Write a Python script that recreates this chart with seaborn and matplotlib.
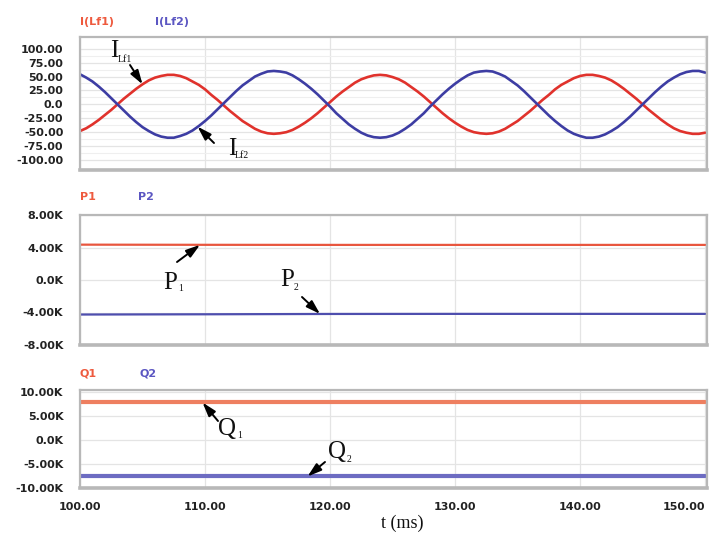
import numpy as np
import pandas as pd
import matplotlib
matplotlib.use("Agg")
import matplotlib.pyplot as plt
import seaborn as sns

# ---------------- data (every 0.5 ms) ----------------
t_ms = [100 + 0.5 * k for k in range(101)]
i_lf1 = [-48, -43, -36, -28, -19, -10, 0, 10, 19, 28, 36, 43, 48, 51, 53, 53, 51, 47, 41, 35,
         27, 17, 8, -2, -12, -21, -30, -37, -44, -49, -52, -53, -52, -50, -46, -40, -33, -25,
         -16, -6, 4, 14, 23, 31, 39, 45, 49, 52, 53, 52, 49, 45, 39, 31, 23, 14, 4, -6, -16,
         -25, -33, -40, -46, -50, -52, -53, -52, -49, -44, -37, -30, -21, -12, -2, 8, 17, 27,
         35, 41, 47, 51, 53, 53, 51, 48, 43, 36, 28, 19, 10, 0, -10, -19, -28, -36, -43, -48,
         -51, -53, -53, -51]
i_lf2 = [54, 48, 41, 32, 22, 11, 0, -11, -22, -32, -41, -48, -54, -58, -60, -60, -57, -53, -47,
         -39, -30, -20, -9, 2, 13, 24, 34, 42, 50, 55, 59, 60, 59, 57, 52, 45, 37, 28, 18, 7,
         -4, -16, -26, -36, -44, -51, -56, -59, -60, -59, -56, -51, -44, -36, -26, -16, -4, 7,
         18, 28, 37, 45, 52, 57, 59, 60, 59, 55, 50, 42, 34, 24, 13, 2, -9, -20, -30, -39, -47,
         -53, -57, -60, -60, -58, -54, -48, -41, -32, -22, -11, 0, 11, 22, 32, 41, 48, 54, 58,
         60, 60, 57]
t_pq = [100, 110, 120, 130, 140, 150]
p1 = [4.35, 4.33, 4.32, 4.32, 4.32, 4.32]      # K
p2 = [-4.25, -4.22, -4.18, -4.17, -4.17, -4.17]
q1 = [7.8, 7.8, 7.8, 7.8, 7.8, 7.8]            # K
q2 = [-7.6, -7.6, -7.6, -7.6, -7.6, -7.6]

i_ticks = [100, 75, 50, 25, 0, -25, -50, -75, -100]
i_labels = ["100.00", "75.00", "50.00", "25.00", "0.0", "-25.00", "-50.00", "-75.00", "-100.00"]
p_ticks = [8, 4, 0, -4, -8]
p_labels = ["8.00K", "4.00K", "0.0K", "-4.00K", "-8.00K"]
q_ticks = [10, 5, 0, -5, -10]
q_labels = ["10.00K", "5.00K", "0.0K", "-5.00K", "-10.00K"]
x_ticks = [100, 110, 120, 130, 140, 150]
x_labels = ["100.00", "110.00", "120.00", "130.00", "140.00", "150.00"]

df_i = pd.DataFrame({"t": t_ms, "I1": i_lf1, "I2": i_lf2})
df_pq = pd.DataFrame({"t": t_pq, "P1": p1, "P2": p2, "Q1": q1, "Q2": q2})

# ---------------- style ----------------
sns.set_style("white")
plt.rcParams["font.family"] = ["DejaVu Sans"]

W, H = 709, 533
fig = plt.figure(figsize=(W / 100, H / 100), dpi=100)


def ax_px(left, top, right, bottom):
    return fig.add_axes([left / W, 1 - bottom / H, (right - left) / W, (bottom - top) / H])


def fp(x, y):
    return (x / W, 1 - y / H)


RED1, BLUE1 = "#e0322c", "#3d3da3"
RED2, BLUE2 = "#e8563e", "#4e4eae"
RED3, BLUE3 = "#ee7f60", "#6d6cc2"
SPINE = "#b8b8b8"
GRID = "#e4e4e4"
TICKC = "#222222"

ax1 = ax_px(80, 37, 707, 170)
ax2 = ax_px(80, 215, 707, 345)
ax3 = ax_px(80, 390, 707, 488)

sns.lineplot(data=df_i, x="t", y="I1", ax=ax1, color=RED1, lw=1.9)
sns.lineplot(data=df_i, x="t", y="I2", ax=ax1, color=BLUE1, lw=1.9)
sns.lineplot(data=df_pq, x="t", y="P1", ax=ax2, color=RED2, lw=1.6)
sns.lineplot(data=df_pq, x="t", y="P2", ax=ax2, color=BLUE2, lw=1.6)
sns.lineplot(data=df_pq, x="t", y="Q1", ax=ax3, color=RED3, lw=3.0)
sns.lineplot(data=df_pq, x="t", y="Q2", ax=ax3, color=BLUE3, lw=3.0)

ax1.set_ylim(-118, 121)
ax2.set_ylim(-7.8, 7.8)
ax3.set_ylim(-10.0, 10.4)

for ax, ticks, labels in [(ax1, i_ticks, i_labels), (ax2, p_ticks, p_labels), (ax3, q_ticks, q_labels)]:
    ax.set_xlim(100, 150.15)
    ax.set_yticks(ticks)
    ax.set_yticklabels(labels)
    ax.set_xticks(x_ticks)
    ax.set_xlabel("")
    ax.set_ylabel("")
    ax.grid(True, color=GRID, lw=0.9)
    ax.tick_params(axis="y", length=0, pad=12, labelsize=8, labelcolor=TICKC)
    ax.tick_params(axis="x", length=0, pad=10, labelsize=8, labelcolor=TICKC)
    for lab in ax.get_yticklabels():
        lab.set_fontweight("bold")
    for s in ax.spines.values():
        s.set_color(SPINE)
        s.set_linewidth(1.6)
    ax.spines["bottom"].set_linewidth(2.6)
    ax.set_facecolor("white")

ax1.set_yticks([-87.5, -62.5, -37.5, -12.5, 12.5, 37.5, 62.5, 87.5], minor=True)
ax1.grid(True, which="minor", color="#efefef", lw=0.8)
ax1.tick_params(which="minor", length=0)

ax1.set_xticklabels([])
ax2.set_xticklabels([])
ax3.set_xticklabels(x_labels)
for lab in ax3.get_xticklabels():
    lab.set_fontweight("bold")
ax3.get_xticklabels()[-1].set_horizontalalignment("right")

# ---------------- header labels ----------------
hdr = dict(fontsize=8, fontweight="bold", va="center", ha="left")
fig.text(*fp(80, 22), "I(Lf1)", color="#ee5a3e", **hdr)
fig.text(*fp(155, 22), "I(Lf2)", color="#5b56c2", **hdr)
fig.text(*fp(80, 197), "P1", color="#ee5a3e", **hdr)
fig.text(*fp(138, 197), "P2", color="#5b56c2", **hdr)
fig.text(*fp(80, 373), "Q1", color="#ee5a3e", **hdr)
fig.text(*fp(140, 373), "Q2", color="#5b56c2", **hdr)

# ---------------- annotations ----------------
SERIF = ["Liberation Serif", "DejaVu Serif"]
arrow = dict(arrowstyle="-|>,head_length=0.7,head_width=0.22", color="black", lw=1.4,
             shrinkA=0, shrinkB=0, mutation_scale=12)


def note(ax, xy, tail_px, letter, sub, letter_px, sub_px):
    ax.annotate("", xy=xy, xycoords="data", xytext=(tail_px[0], H - tail_px[1]),
                textcoords="figure pixels", arrowprops=arrow)
    fig.text(*fp(*letter_px), letter, family=SERIF, fontsize=18, ha="left", va="baseline",
             color="#111111")
    fig.text(*fp(*sub_px), sub, family=SERIF, fontsize=7, ha="left", va="baseline",
             color="#111111")


note(ax1, (105, 36), (130, 65), "I", "Lf1", (110, 57), (118, 62))
note(ax1, (109.4, -40), (214, 143), "I", "Lf2", (228, 155), (235, 158))
note(ax2, (109.6, 4.33), (177, 262), "P", "1", (163, 289), (178, 291))
note(ax2, (119.2, -4.18), (302, 297), "P", "2", (280, 286), (294, 290))
note(ax3, (109.8, 7.8), (218, 421), "Q", "1", (218, 435), (237, 438))
note(ax3, (118.2, -7.6), (325, 462), "Q", "2", (328, 458), (347, 462))

fig.text(*fp(402, 523), "t (ms)", family=SERIF, fontsize=13, ha="center", va="center",
         color="#111111")

fig.savefig("out.png", dpi=100)
